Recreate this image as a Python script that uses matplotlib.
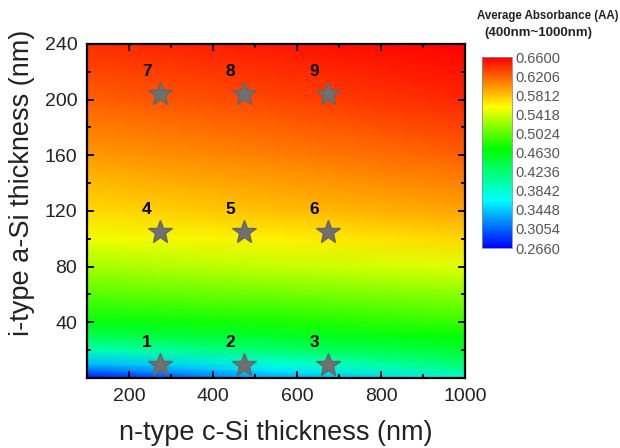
import numpy as np
import matplotlib
matplotlib.use("Agg")
from matplotlib import pyplot as plt
from matplotlib.colors import LinearSegmentedColormap
from matplotlib.ticker import MultipleLocator

plt.rcParams['font.family'] = ['Liberation Sans', 'DejaVu Sans']

# absorbance map (AA values)
x_nm = [100, 550, 1000]
y_nm = [0, 5, 10, 20, 30, 40, 60, 80, 100, 120, 160, 200, 240]
aa_left = [0.274, 0.305, 0.337, 0.395, 0.437, 0.463, 0.500, 0.527, 0.551, 0.572, 0.597, 0.620, 0.640]
aa_mid = [0.330, 0.355, 0.380, 0.425, 0.455, 0.477, 0.509, 0.537, 0.562, 0.582, 0.609, 0.632, 0.650]
aa_right = [0.384, 0.404, 0.424, 0.452, 0.472, 0.490, 0.518, 0.547, 0.573, 0.593, 0.621, 0.644, 0.660]

# sample points (stars) and their labels
pt_x = [275, 475, 675, 275, 475, 675, 275, 475, 675]
pt_y = [9, 9, 9, 105, 105, 105, 204, 204, 204]
pt_lbl = ['1', '2', '3', '4', '5', '6', '7', '8', '9']

cbar_ticks = [0.2660, 0.3054, 0.3448, 0.3842, 0.4236, 0.4630, 0.5024, 0.5418, 0.5812, 0.6206, 0.6600]

cmap = LinearSegmentedColormap.from_list(
    'origin_rainbow',
    [(0.0, (0, 0, 1)), (0.25, (0, 1, 1)), (0.52, (0, 1, 0)),
     (0.74, (1, 1, 0)), (1.0, (1, 0, 0))])

Z = np.array([aa_left, aa_mid, aa_right]).T
X, Y = np.meshgrid(x_nm, y_nm)

fig = plt.figure(figsize=(6.2, 4.48), dpi=100)
ax = fig.add_axes([0.1403, 0.1563, 0.6097, 0.7455])
pc = ax.pcolormesh(X, Y, Z, cmap=cmap, vmin=0.266, vmax=0.66, shading='gouraud')

ax.plot(pt_x, pt_y, ls='none', marker='*', ms=18, color='#707070',
        markeredgecolor='#666666', zorder=3)
for xx, yy, s in zip(pt_x, pt_y, pt_lbl):
    ax.annotate(s, (xx, yy), xytext=(-10, 11), textcoords='offset points',
                ha='center', va='bottom', fontsize=12.5, fontweight='bold', color='black')

ax.set_xlim(100, 1000)
ax.set_ylim(0, 240)
ax.set_xticks([200, 400, 600, 800, 1000])
ax.set_yticks([40, 80, 120, 160, 200, 240])
ax.xaxis.set_minor_locator(MultipleLocator(100))
ax.yaxis.set_minor_locator(MultipleLocator(20))
ax.tick_params(which='both', direction='in', top=True, right=True, width=1.3,
               labelsize=14, labelcolor='#222222')
ax.tick_params(which='major', length=5, pad=7)
ax.tick_params(which='minor', length=3)
for sp in ax.spines.values():
    sp.set_linewidth(1.6)

ax.set_xlabel('n-type c-Si thickness (nm)', fontsize=19.5, color='#222222')
ax.set_ylabel('i-type a-Si thickness (nm)', fontsize=19.5, color='#222222')
ax.xaxis.set_label_coords(0.5, -0.125)
ax.yaxis.set_label_coords(-0.137, 0.585)

cax = fig.add_axes([0.777, 0.4464, 0.048, 0.426])
cb = fig.colorbar(pc, cax=cax, ticks=cbar_ticks)
cb.ax.tick_params(length=0, labelsize=10.5, labelcolor='#555555', pad=3)
cb.ax.set_yticklabels(['%.4f' % t for t in cbar_ticks])
cb.outline.set_edgecolor('#8888aa')
cb.outline.set_linewidth(0.6)

fig.text(0.998, 0.964, 'Average Absorbance (AA)', ha='right', va='center',
         fontsize=8.3, fontweight='bold', color='#222222')
fig.text(0.869, 0.927, '(400nm~1000nm)', ha='center', va='center',
         fontsize=9.5, fontweight='bold', color='#222222')

fig.savefig('out.png', dpi=100)
